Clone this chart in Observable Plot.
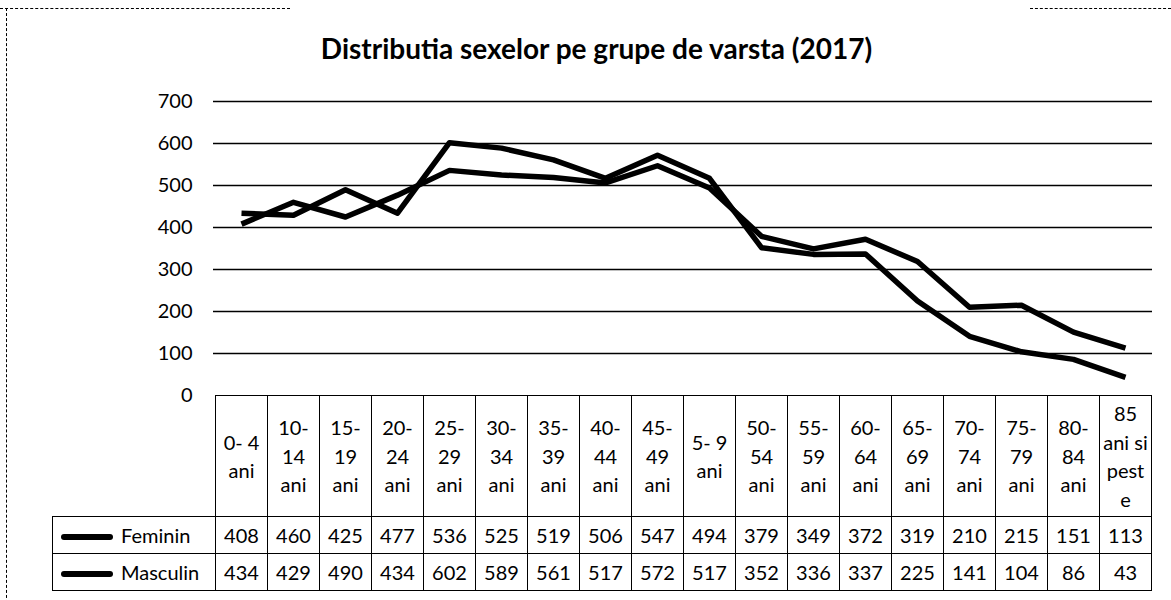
<!DOCTYPE html>
<html><head><meta charset="utf-8">
<script src="https://cdn.jsdelivr.net/npm/d3@7"></script>
<script src="https://cdn.jsdelivr.net/npm/@observablehq/plot@0.6"></script>
<style>
body{margin:0;background:#fff;font-family:Lato,"Open Sans",sans-serif;color:#000}
#wrap{position:relative;width:1171px;height:600px;overflow:hidden}
#frameL{position:absolute;left:6px;top:8px;height:600px;border-left:1.5px dashed #000}
#frameT1{position:absolute;left:0;top:8px;width:290px;border-top:1.5px dashed #000}
#frameT2{position:absolute;left:1030px;top:8px;width:141px;border-top:1.5px dashed #000}
#title{position:absolute;left:11px;top:29px;width:1171px;text-align:center;font-weight:700;font-size:28px;line-height:38px}
#chart{position:absolute;left:0;top:81px}
#tbl{position:absolute;top:395px}
table{border-collapse:collapse;table-layout:fixed;font-size:20px}
td{border:1.5px solid #000;text-align:center;padding:0;vertical-align:middle;overflow:visible}
td.hdr{height:120px;white-space:pre;line-height:28.5px}
td.blank{border-top:none;border-left:none}
td.num{height:36px}
td.leg{text-align:left;padding-left:8px;white-space:nowrap}
.sw{display:inline-block;width:52px;height:6px;background:#000;border-radius:3px;vertical-align:middle;margin-right:8px;position:relative;top:-1px}
</style>
</head><body>
<div id="wrap">
  <div id="frameL"></div><div id="frameT1"></div><div id="frameT2"></div>
  <div id="title">Distributia sexelor pe grupe de varsta (2017)</div>
  <div id="chart"></div>
  <div id="tbl"></div>
</div>
<script>
const categories = ["0- 4 ani","10- 14 ani","15- 19 ani","20- 24 ani","25- 29 ani","30- 34 ani","35- 39 ani","40- 44 ani","45- 49 ani","5- 9 ani","50- 54 ani","55- 59 ani","60- 64 ani","65- 69 ani","70- 74 ani","75- 79 ani","80- 84 ani","85 ani si peste"];
const headerLabels = ["0- 4\nani","10-\n14\nani","15-\n19\nani","20-\n24\nani","25-\n29\nani","30-\n34\nani","35-\n39\nani","40-\n44\nani","45-\n49\nani","5- 9\nani","50-\n54\nani","55-\n59\nani","60-\n64\nani","65-\n69\nani","70-\n74\nani","75-\n79\nani","80-\n84\nani","85\nani si\npest\ne"];
const feminin = [408,460,425,477,536,525,519,506,547,494,379,349,372,319,210,215,151,113];
const masculin = [434,429,490,434,602,589,561,517,572,517,352,336,337,225,141,104,86,43];
const seriesNames = ["Feminin","Masculin"];
const yTicks = [0,100,200,300,400,500,600,700];
const gridTicks = [100,200,300,400,500,600,700];

const seriesValues = [feminin, masculin];
const rows = [];
seriesNames.forEach((s, si) => categories.forEach((c, i) => rows.push({series: s, group: c, value: seriesValues[si][i]})));

const chart = Plot.plot({
  width: 1171, height: 329,
  marginTop: 20, marginBottom: 15, marginLeft: 213, marginRight: 19,
  style: {fontFamily: "Lato, 'Open Sans', sans-serif", fontSize: "20px", overflow: "visible", background: "transparent", color: "#000"},
  x: {type: "point", domain: categories, padding: 0.5, axis: null},
  y: {domain: [0, 700]},
  marks: [
    Plot.ruleY(gridTicks, {stroke: "#000", strokeWidth: 1.5}),
    Plot.axisY(yTicks, {tickSize: 0, tickPadding: 21, fontSize: 20, label: null}),
    Plot.line(rows, {x: "group", y: "value", z: "series", stroke: "#000", strokeWidth: 5.5, strokeLinejoin: "round", strokeLinecap: "butt"})
  ]
});
document.getElementById("chart").appendChild(chart);

// table aligned to the x scale
const xs = chart.scale("x");
const step = xs.apply(categories[1]) - xs.apply(categories[0]);
const left0 = xs.apply(categories[0]) - step / 2;
const legLeft = 52;
const tblDiv = document.getElementById("tbl");
tblDiv.style.left = legLeft + "px";
const table = document.createElement("table");
table.style.width = (left0 - legLeft + step * categories.length) + "px";
const cg = document.createElement("colgroup");
const c0 = document.createElement("col"); c0.style.width = (left0 - legLeft) + "px"; cg.appendChild(c0);
categories.forEach(() => { const c = document.createElement("col"); c.style.width = step + "px"; cg.appendChild(c); });
table.appendChild(cg);
const hr = document.createElement("tr");
const hb = document.createElement("td"); hb.className = "hdr blank"; hr.appendChild(hb);
headerLabels.forEach(l => { const td = document.createElement("td"); td.className = "hdr"; td.textContent = l; hr.appendChild(td); });
table.appendChild(hr);
seriesNames.forEach((s, si) => {
  const tr = document.createElement("tr");
  const lg = document.createElement("td"); lg.className = "num leg";
  const sw = document.createElement("span"); sw.className = "sw"; lg.appendChild(sw);
  lg.appendChild(document.createTextNode(s));
  tr.appendChild(lg);
  seriesValues[si].forEach(v => { const td = document.createElement("td"); td.className = "num"; td.textContent = v; tr.appendChild(td); });
  table.appendChild(tr);
});
tblDiv.appendChild(table);
</script>
</body></html>
